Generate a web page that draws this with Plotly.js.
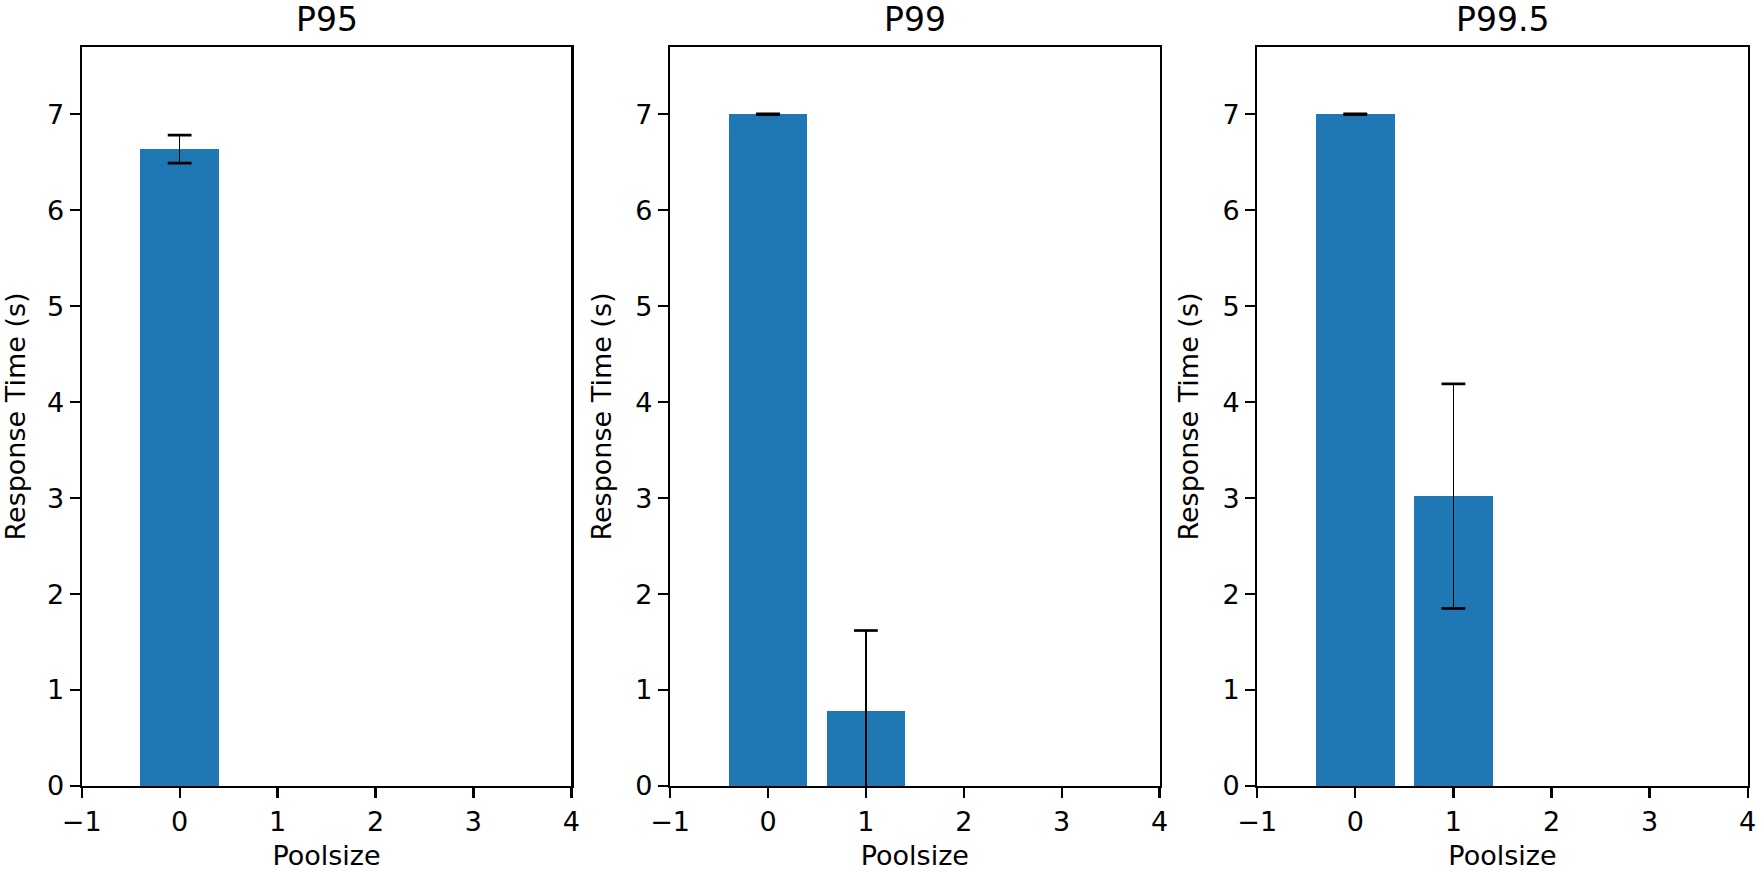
<!DOCTYPE html>
<html>
<head>
<meta charset="utf-8">
<script src="https://cdn.plot.ly/plotly-3.0.1.min.js"></script>
<style>
  html, body { margin: 0; padding: 0; background: #fff; }
  #chart { width: 1761px; height: 871px; }
</style>
</head>
<body>
<div id="chart"></div>
<script>
// ─── Data ───
const panelTitles = ["P95", "P99", "P99.5"];

const p95Pool = [0];
const p95Mean = [6.635];
const p95Err = [0.146];

const p99Pool = [0, 1];
const p99Mean = [7.0, 0.78];
const p99Err = [0.004, 0.84];

const p995Pool = [0, 1];
const p995Mean = [7.0, 3.02];
const p995Err = [0.004, 1.17];

const xTicks = [-1, 0, 1, 2, 3, 4];
const yTicks = [0, 1, 2, 3, 4, 5, 6, 7];

// ─── Layout geometry (px in a 1761x871 figure) ───
const W = 1761, H = 871;
const panelsPx = [[81.7, 571.4], [670.1, 1159.6], [1257.2, 1747.7]];
const yDom = [(H - 786) / H, (H - 47) / H];

const font = { family: "DejaVu Sans, Liberation Sans, sans-serif", size: 27, color: "#000" };
const blue = "#1f77b4";

function axSuffix(i) {
  return i === 0 ? "" : String(i + 1);
}

function barTrace(x, y, err, i) {
  return {
    type: "bar",
    x: x,
    y: y,
    width: 0.8,
    marker: { color: blue, line: { width: 0 } },
    error_y: {
      type: "data",
      array: err,
      visible: true,
      color: "#000",
      thickness: 1.5,
      width: 0,
    },
    xaxis: "x" + axSuffix(i),
    yaxis: "y" + axSuffix(i),
    hoverinfo: "x+y",
    showlegend: false,
  };
}

// matplotlib caps are heavier than the stem, so draw them as markers
function capTrace(x, y, err, i) {
  const cx = [], cy = [];
  x.forEach((v, k) => {
    cx.push(v, v);
    cy.push(y[k] + err[k], y[k] - err[k]);
  });
  return {
    type: "scatter",
    mode: "markers",
    x: cx,
    y: cy,
    marker: { symbol: "line-ew", size: 17, line: { color: "#000", width: 2.7 } },
    xaxis: "x" + axSuffix(i),
    yaxis: "y" + axSuffix(i),
    hoverinfo: "skip",
    showlegend: false,
    cliponaxis: true,
  };
}

const traces = [
  barTrace(p95Pool, p95Mean, p95Err, 0),
  barTrace(p99Pool, p99Mean, p99Err, 1),
  barTrace(p995Pool, p995Mean, p995Err, 2),
  capTrace(p95Pool, p95Mean, p95Err, 0),
  capTrace(p99Pool, p99Mean, p99Err, 1),
  capTrace(p995Pool, p995Mean, p995Err, 2),
];

const axisCommon = {
  showline: true,
  mirror: true,
  linecolor: "#000",
  linewidth: 2.2,
  ticks: "outside",
  ticklen: 10,
  tickwidth: 2.2,
  tickcolor: "#000",
  showgrid: false,
  zeroline: false,
  tickfont: font,
  automargin: false,
  fixedrange: true,
};

const layout = {
  width: W,
  height: H,
  margin: { l: 0, r: 0, t: 0, b: 0 },
  paper_bgcolor: "#fff",
  plot_bgcolor: "#fff",
  font: font,
  bargap: 0,
  annotations: [],
};

panelsPx.forEach((p, i) => {
  const s = axSuffix(i);
  layout["xaxis" + s] = Object.assign({}, axisCommon, {
    domain: [p[0] / W, p[1] / W],
    range: [-1, 4],
    tickmode: "array",
    tickvals: xTicks,
    anchor: "y" + s,
    title: { text: "Poolsize", font: font, standoff: 14 },
  });
  layout["yaxis" + s] = Object.assign({}, axisCommon, {
    domain: yDom,
    range: [0, 7.7],
    tickmode: "array",
    tickvals: yTicks,
    anchor: "x" + s,
    title: { text: "Response Time (s)", font: font, standoff: 16 },
  });
  layout.annotations.push({
    text: panelTitles[i],
    xref: "paper",
    yref: "paper",
    x: (p[0] + p[1]) / 2 / W,
    y: (H - 19) / H,
    xanchor: "center",
    yanchor: "middle",
    showarrow: false,
    font: Object.assign({}, font, { size: 33 }),
  });
});

Plotly.newPlot("chart", traces, layout, { staticPlot: true, displayModeBar: false });
</script>
</body>
</html>
